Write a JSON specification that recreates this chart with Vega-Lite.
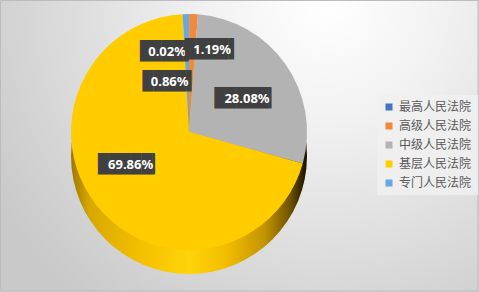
{
  "$schema": "https://vega.github.io/schema/vega-lite/v6.json",
  "width": 479,
  "height": 292,
  "autosize": {"type": "fit", "contains": "padding"},
  "padding": 0,
  "background": "#d4d4d4",
  "config": {"view": {"stroke": null}},
  "data": {
    "values": [
      {"court": "最高人民法院", "pct": 0.02, "label": "0.02%", "idx": 1},
      {"court": "高级人民法院", "pct": 1.19, "label": "1.19%", "idx": 2},
      {"court": "中级人民法院", "pct": 28.08, "label": "28.08%", "idx": 3},
      {"court": "基层人民法院", "pct": 69.86, "label": "69.86%", "idx": 4},
      {"court": "专门人民法院", "pct": 0.86, "label": "0.86%", "idx": 5}
    ]
  },
  "layer": [
    {
      "data": {"values": [{}]},
      "mark": {"type": "rect", "stroke": "#bcbcbc", "strokeWidth": 1,
        "fill": {"gradient": "radial", "x1": 0.68, "y1": 0.2, "r1": 0, "x2": 0.68, "y2": 0.2, "r2": 0.8,
          "stops": [{"offset": 0, "color": "#ffffff"}, {"offset": 0.3, "color": "#f2f2f2"}, {"offset": 1, "color": "#c9c9c9"}]}},
      "encoding": {
        "x": {"value": 0.5}, "x2": {"value": "width"},
        "y": {"value": 0.5}, "y2": {"value": "height"}
      }
    },
    {
      "data": {"values": [{}]},
      "mark": {"type": "arc", "x": 189, "y": 156, "radius": 118, "theta": 0, "theta2": 6.2832,
        "fill": {"gradient": "linear", "x1": 0, "y1": 0, "x2": 1, "y2": 0,
          "stops": [
            {"offset": 0, "color": "#9c7800"},
            {"offset": 0.08, "color": "#d9a800"},
            {"offset": 0.3, "color": "#f5c000"},
            {"offset": 0.5, "color": "#ffd40a"},
            {"offset": 0.66, "color": "#f2bd00"},
            {"offset": 0.82, "color": "#c39400"},
            {"offset": 0.93, "color": "#6e5200"},
            {"offset": 1, "color": "#140e00"}
          ]}},
      "encoding": {}
    },
    {
      "mark": {"type": "arc", "x": 189, "y": 132, "radius": 118},
      "encoding": {
        "theta": {"field": "pct", "type": "quantitative", "stack": true},
        "order": {"field": "idx", "type": "quantitative"},
        "color": {
          "field": "court", "type": "nominal",
          "scale": {
            "domain": ["最高人民法院", "高级人民法院", "中级人民法院", "基层人民法院", "专门人民法院"],
            "range": ["#4472c4", "#f2883a", "#b3b3b3", "#ffcc00", "#68a7e0"]
          },
          "legend": {
            "title": null, "orient": "none", "legendX": 377, "legendY": 95,
            "fillColor": "rgba(240,240,240,0.85)", "padding": 6,
            "symbolType": "square", "symbolSize": 49, "symbolStrokeWidth": 0,
            "labelFont": "Noto Sans CJK SC", "labelFontSize": 12, "labelColor": "#595959",
            "rowPadding": 7, "labelOffset": 4
          }
        }
      }
    },
    {
      "encoding": {
        "theta": {"field": "pct", "type": "quantitative", "stack": true},
        "order": {"field": "idx", "type": "quantitative"},
        "detail": {"field": "court"}
      },
      "layer": [
        {"mark": {"type": "text", "x": 189, "y": 132, "radius": 80, "dx": -22, "font": "DejaVu Sans Mono", "fontSize": 18, "fill": "#404040"},
          "encoding": {"text": {"condition": {"test": "datum.court === '最高人民法院'", "value": "████▌"}, "value": ""}}},
        {"mark": {"type": "text", "x": 189, "y": 132, "radius": 80, "dx": -22, "font": "Noto Sans", "fontWeight": "bold", "fontSize": 13, "fill": "#ffffff"},
          "encoding": {"text": {"condition": {"test": "datum.court === '最高人民法院'", "field": "label"}, "value": ""}}},
        {"mark": {"type": "text", "x": 189, "y": 132, "radius": 82, "dx": 20, "font": "DejaVu Sans Mono", "fontSize": 18, "fill": "#404040"},
          "encoding": {"text": {"condition": {"test": "datum.court === '高级人民法院'", "value": "████▌"}, "value": ""}}},
        {"mark": {"type": "text", "x": 189, "y": 132, "radius": 82, "dx": 20, "font": "Noto Sans", "fontWeight": "bold", "fontSize": 13, "fill": "#ffffff"},
          "encoding": {"text": {"condition": {"test": "datum.court === '高级人民法院'", "field": "label"}, "value": ""}}},
        {"mark": {"type": "text", "x": 189, "y": 132, "radius": 50, "dx": -18, "font": "DejaVu Sans Mono", "fontSize": 18, "fill": "#404040"},
          "encoding": {"text": {"condition": {"test": "datum.court === '专门人民法院'", "value": "████▌"}, "value": ""}}},
        {"mark": {"type": "text", "x": 189, "y": 132, "radius": 50, "dx": -18, "font": "Noto Sans", "fontWeight": "bold", "fontSize": 13, "fill": "#ffffff"},
          "encoding": {"text": {"condition": {"test": "datum.court === '专门人民法院'", "field": "label"}, "value": ""}}},
        {"mark": {"type": "text", "x": 189, "y": 132, "radius": 66, "dx": 4, "dy": 5, "font": "DejaVu Sans Mono", "fontSize": 18, "fill": "#404040"},
          "encoding": {"text": {"condition": {"test": "datum.court === '中级人民法院'", "value": "█████▎"}, "value": ""}}},
        {"mark": {"type": "text", "x": 189, "y": 132, "radius": 66, "dx": 4, "dy": 5, "font": "Noto Sans", "fontWeight": "bold", "fontSize": 13, "fill": "#ffffff"},
          "encoding": {"text": {"condition": {"test": "datum.court === '中级人民法院'", "field": "label"}, "value": ""}}},
        {"mark": {"type": "text", "x": 189, "y": 132, "radius": 66, "dx": -7, "dy": -8, "font": "DejaVu Sans Mono", "fontSize": 18, "fill": "#404040"},
          "encoding": {"text": {"condition": {"test": "datum.court === '基层人民法院'", "value": "█████▎"}, "value": ""}}},
        {"mark": {"type": "text", "x": 189, "y": 132, "radius": 66, "dx": -7, "dy": -8, "font": "Noto Sans", "fontWeight": "bold", "fontSize": 13, "fill": "#ffffff"},
          "encoding": {"text": {"condition": {"test": "datum.court === '基层人民法院'", "field": "label"}, "value": ""}}}
      ]
    }
  ]
}
